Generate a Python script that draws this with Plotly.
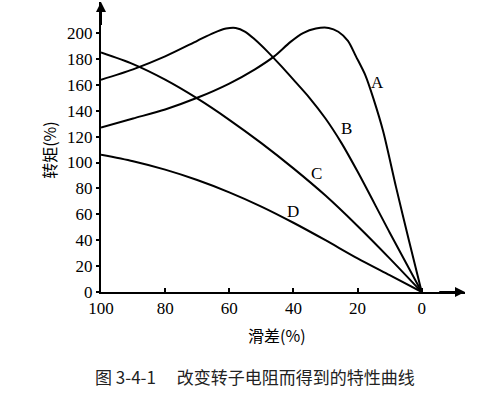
import plotly.graph_objects as go

# ---- data ----
slip_A = [100, 90, 80, 70, 60, 52, 46, 41, 37, 33, 29, 26, 23, 20.5, 17.5, 15, 12, 8, 4, 0]
torque_A = [127, 134, 141, 150, 161, 172, 182, 193, 200, 203.5, 204, 201, 194, 182, 167, 149, 124, 81, 40, 0]

slip_B = [100, 90, 80, 70, 65, 61, 58, 55, 52, 48, 44, 40, 35, 30, 25, 20, 10, 0]
torque_B = [164, 172, 182, 194, 200, 203.5, 204, 201, 195, 185.5, 175, 164, 150, 134, 115, 93, 46, 0]

slip_C = [100, 90, 80, 70, 60, 50, 40, 30, 20, 10, 0]
torque_C = [185, 176, 164, 149.5, 133, 115, 95.5, 74.5, 51, 26, 0]

slip_D = [100, 90, 80, 70, 60, 50, 40, 30, 20, 10, 0]
torque_D = [106, 101, 94.5, 86.5, 77, 66, 53.5, 40, 26, 13, 0]

curve_names = ["A", "B", "C", "D"]
label_pos = {"A": (13.9, 162), "B": (23.5, 126), "C": (32.8, 91.5), "D": (40.2, 62)}

x_ticks = [100, 80, 60, 40, 20, 0]
y_ticks = [0, 20, 40, 60, 80, 100, 120, 140, 160, 180, 200]

x_title = "滑差(%)"
y_title = "转矩(%)"
caption = "图 3-4-1　 改变转子电阻而得到的特性曲线"

serif = "Liberation Serif"
cjk = "Noto Sans CJK SC"

fig = go.Figure()
for name, xs, ys in [("A", slip_A, torque_A), ("B", slip_B, torque_B),
                     ("C", slip_C, torque_C), ("D", slip_D, torque_D)]:
    fig.add_trace(go.Scatter(x=xs, y=ys, mode="lines", name=name,
                             line=dict(color="black", width=2, shape="spline", smoothing=0.8),
                             showlegend=False, hoverinfo="skip"))

annotations = []
for n in curve_names:
    x, y = label_pos[n]
    annotations.append(dict(x=x, y=y, xref="x", yref="y", text=n, showarrow=False,
                            xanchor="center", yanchor="middle",
                            font=dict(family=serif, size=17, color="black")))

# axis arrows
annotations.append(dict(x=100, y=224, ax=100, ay=205, xref="x", yref="y", axref="x", ayref="y",
                        showarrow=True, arrowhead=2, arrowsize=1, arrowwidth=2, arrowcolor="black", text=""))
annotations.append(dict(x=-13.5, y=0, ax=-5, ay=0, xref="x", yref="y", axref="x", ayref="y",
                        showarrow=True, arrowhead=2, arrowsize=1, arrowwidth=2, arrowcolor="black", text=""))

annotations.append(dict(x=-0.143, y=0.49, xref="paper", yref="paper", text=y_title, textangle=-90,
                        xanchor="center", yanchor="middle",
                        showarrow=False, font=dict(family=cjk, size=16, color="black")))
annotations.append(dict(x=0.484, y=-0.148, xref="paper", yref="paper", text=x_title,
                        xanchor="center", yanchor="middle",
                        showarrow=False, font=dict(family=cjk, size=16, color="black")))
annotations.append(dict(x=0.423, y=-0.29, xref="paper", yref="paper", text=caption,
                        xanchor="center", yanchor="middle",
                        showarrow=False, font=dict(family=cjk, size=17, color="#222")))

fig.update_layout(
    width=484, height=398,
    margin=dict(l=101, r=19, t=2, b=106),
    paper_bgcolor="white", plot_bgcolor="white",
    annotations=annotations,
    xaxis=dict(range=[100, -13.5], tickvals=x_ticks, ticktext=[str(v) for v in x_ticks],
               showgrid=False, zeroline=False, showline=True, linecolor="black", linewidth=2,
               ticks="inside", ticklen=4, tickwidth=1.5, tickcolor="black",
               tickfont=dict(family=serif, size=17, color="black")),
    yaxis=dict(range=[0, 224], tickvals=y_ticks, ticktext=[str(v) for v in y_ticks],
               showgrid=False, zeroline=False, showline=True, linecolor="black", linewidth=2,
               ticks="outside", ticklen=3, tickwidth=1.5, tickcolor="black",
               tickfont=dict(family=serif, size=17, color="black")),
)

fig.write_html("out.html", config={"displayModeBar": False},
               post_script="document.body.style.margin='0';")
